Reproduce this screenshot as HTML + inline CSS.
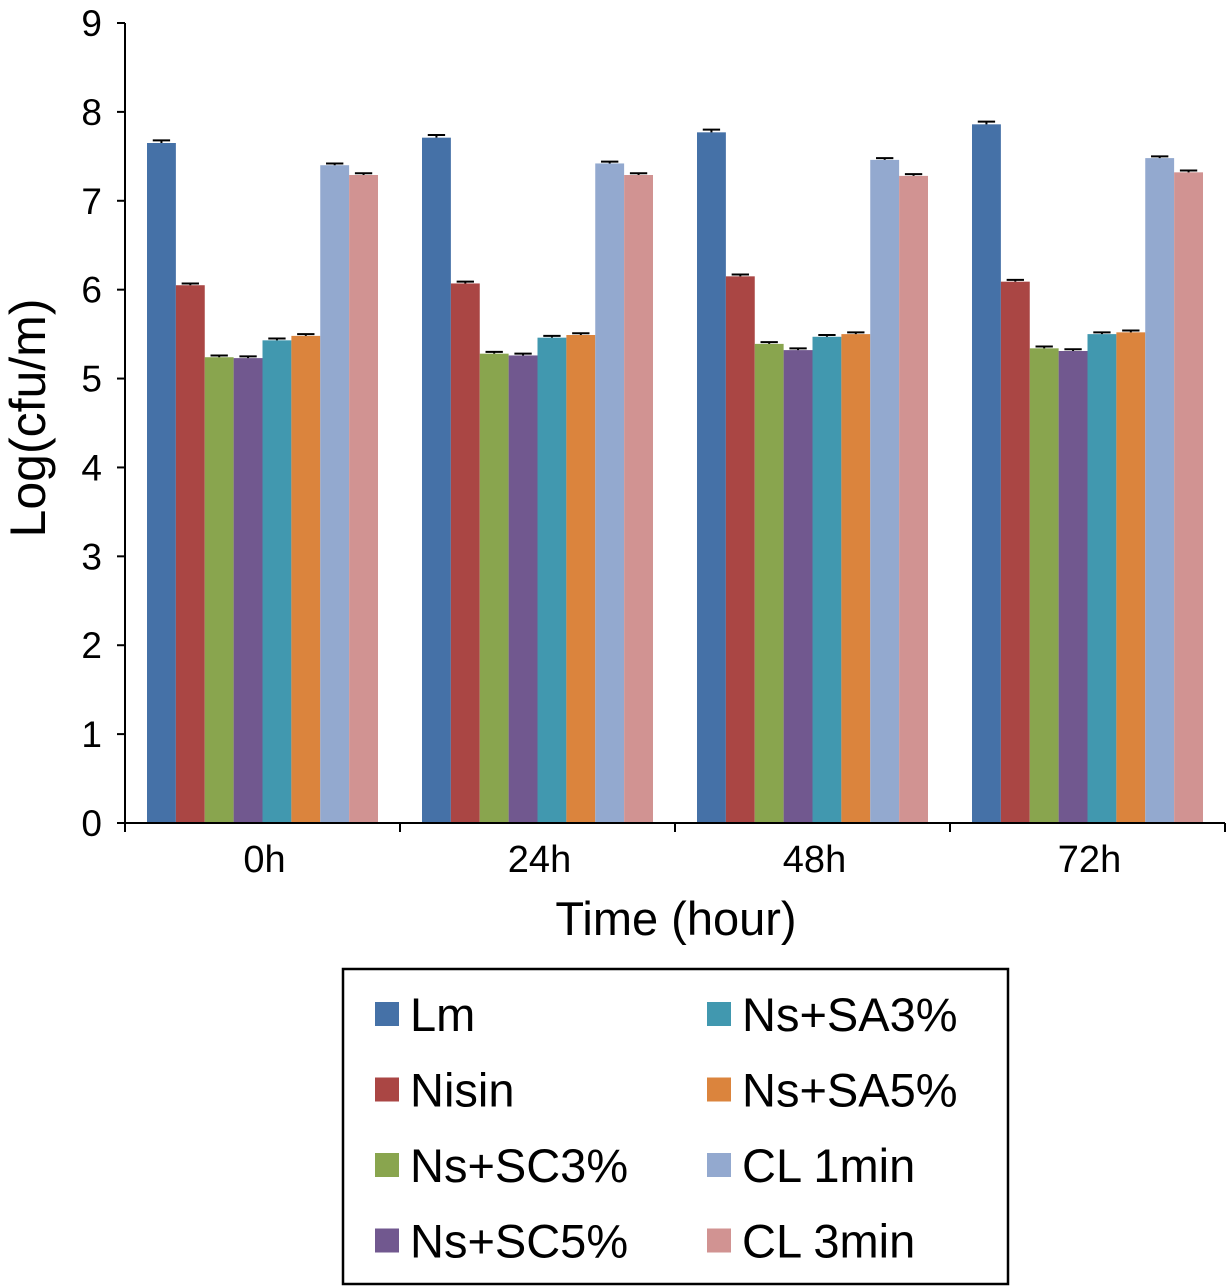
<!DOCTYPE html>
<html><head><meta charset="utf-8"><style>
html,body{margin:0;padding:0;background:#fff;}
svg{display:block;font-family:"Liberation Sans",Arial,sans-serif;}
</style></head><body>
<svg id="chart" width="1228" height="1286" viewBox="0 0 1228 1286">
<g id="plot"></g>
<g id="legend"></g>
</svg>
<script>
const categories = ["0h","24h","48h","72h"];
const seriesNames = ["Lm","Nisin","Ns+SC3%","Ns+SC5%","Ns+SA3%","Ns+SA5%","CL 1min","CL 3min"];
const seriesColors = ["#4571a7","#aa4644","#89a54e","#71588f","#4198af","#db843d","#93a9cf","#d19392"];
const valLm    = [7.65,7.71,7.77,7.86];
const valNisin = [6.05,6.07,6.15,6.09];
const valSC3   = [5.24,5.28,5.39,5.34];
const valSC5   = [5.23,5.26,5.32,5.31];
const valSA3   = [5.43,5.46,5.47,5.50];
const valSA5   = [5.48,5.49,5.50,5.52];
const valCL1   = [7.40,7.42,7.46,7.48];
const valCL3   = [7.29,7.29,7.28,7.32];
const errors   = [0.03,0.02,0.02,0.02,0.02,0.02,0.02,0.02];
const yTicks = [0,1,2,3,4,5,6,7,8,9];
const series = [valLm,valNisin,valSC3,valSC5,valSA3,valSA5,valCL1,valCL3];

const NS="http://www.w3.org/2000/svg";
const X0=125,X1=1225,Y0=823,Ymax=23;
const y=v=>Y0-(v/9)*(Y0-Ymax);
const groupW=(X1-X0)/categories.length;
const pad=22, barW=(groupW-2*pad)/series.length;
const plot=document.getElementById('plot');
function mk(tag,attrs,parent){const e=document.createElementNS(NS,tag);for(const k in attrs)e.setAttribute(k,attrs[k]);parent.appendChild(e);return e;}

series.forEach((vals,si)=>{
  vals.forEach((v,ci)=>{
    const bx=X0+ci*groupW+pad+si*barW;
    const r=mk('rect',{x:bx,y:y(v),width:barW,height:Y0-y(v),fill:seriesColors[si]},plot);
    
    
    const cx=bx+barW/2, e=errors[si];
    const eb=mk('path',{d:`M${cx} ${y(v)}V${y(v+e)}M${cx-barW*0.3} ${y(v+e)}H${cx+barW*0.3}`,stroke:'#000','stroke-width':2,fill:'none'},plot);
    
    
  });
});
const ya=mk('line',{x1:X0,y1:Ymax,x2:X0,y2:Y0,stroke:'#000','stroke-width':2},plot);


const xa=mk('line',{x1:X0,y1:Y0,x2:X1,y2:Y0,stroke:'#000','stroke-width':2},plot);


yTicks.forEach(t=>{
  mk('line',{x1:X0-8,y1:y(t),x2:X0,y2:y(t),stroke:'#000','stroke-width':2},plot);
  const tx=mk('text',{x:102,y:y(t)+13,'text-anchor':'end','font-size':37},plot);
  tx.textContent=t;
  
  
});
for(let i=0;i<=categories.length;i++){
  const gx=X0+i*groupW;
  mk('line',{x1:gx,y1:Y0,x2:gx,y2:Y0+9,stroke:'#000','stroke-width':2},plot);
}
categories.forEach((c,i)=>{
  const tx=mk('text',{x:X0+i*groupW+groupW/2+2,y:872,'text-anchor':'middle','font-size':38},plot);
  tx.textContent=c;
  
  
});
const xt=mk('text',{x:676,y:935,'text-anchor':'middle','font-size':47},plot);
xt.textContent='Time (hour)';


const yt=mk('text',{x:0,y:0,'text-anchor':'middle','font-size':50,transform:'translate(45,418) rotate(-90)'},plot);
yt.textContent='Log(cfu/m)';


const lg=document.getElementById('legend');
mk('rect',{x:343,y:969,width:665,height:315,fill:'#fff',stroke:'#000','stroke-width':2.5},lg);
seriesNames.forEach((n,i)=>{
  const col=Math.floor(i/4), row=i%4;
  const sx=col?707:375, cy=1014+row*75.5;
  const sq=mk('rect',{x:sx,y:cy-12,width:24,height:24,fill:seriesColors[i]},lg);
  
  
  const tx=mk('text',{x:sx+35,y:cy+17,'font-size':47},lg);
  tx.textContent=n;
  
  
});
</script>
</body></html>
